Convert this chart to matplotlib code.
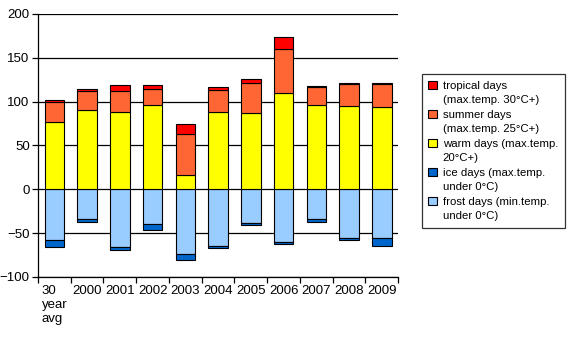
import numpy as np
import matplotlib
matplotlib.use("Agg")
import matplotlib.pyplot as plt
from matplotlib.patches import Patch

plt.rcParams['font.family'] = ['Liberation Sans', 'DejaVu Sans']

labels = ["30\nyear\navg", "2000", "2001", "2002", "2003", "2004",
          "2005", "2006", "2007", "2008", "2009"]

# days per year, stacked upward from zero
warm = [77, 90, 88, 96, 16, 88, 87, 110, 96, 95, 94]
summer = [22, 22, 24, 18, 47, 25, 34, 50, 21, 25, 26]
tropical = [3, 2, 7, 5, 12, 4, 5, 14, 1, 1, 1]
# days per year, stacked downward from zero
frost = [58, 34, 66, 40, 74, 65, 38, 60, 34, 55, 56]
ice = [8, 3, 3, 6, 7, 2, 3, 2, 3, 3, 9]

fig = plt.figure(figsize=(5.69, 3.39), dpi=100)
ax = fig.add_axes([0.0668, 0.183, 0.633, 0.776])

x = np.arange(len(labels))
w = 0.6
ek = dict(edgecolor='black', linewidth=0.8, zorder=3)

warm = np.array(warm)
summer = np.array(summer)
tropical = np.array(tropical)
frost = np.array(frost)
ice = np.array(ice)

b_frost = ax.bar(x, -frost, w, color='#99ccff', **ek)
b_ice = ax.bar(x, -ice, w, bottom=-frost, color='#0066cc', **ek)
b_warm = ax.bar(x, warm, w, color='#ffff00', **ek)
b_summer = ax.bar(x, summer, w, bottom=warm, color='#ff6633', **ek)
b_trop = ax.bar(x, tropical, w, bottom=warm + summer, color='#ff0000', **ek)

ax.set_xlim(-0.5, len(labels) - 0.5)
ax.set_ylim(-100, 200)
ax.set_yticks(range(-100, 201, 50))
ax.yaxis.grid(True, color='black', linewidth=0.9, zorder=0)
ax.set_axisbelow(True)

ax.set_xticks(x)
ax.set_xticklabels(labels, va='top')
ax.get_xticklabels()[0].set_multialignment('left')
ax.set_xticks(np.arange(-0.5, len(labels), 1.0), minor=True)
ax.tick_params(axis='x', which='major', length=0, pad=6, labelsize=9.5)
ax.tick_params(axis='x', which='minor', length=4, width=0.9, direction='out')
ax.tick_params(axis='y', length=4, width=0.9, labelsize=9.5, pad=2)

for s in ['top', 'right']:
    ax.spines[s].set_visible(False)
for s in ['left', 'bottom']:
    ax.spines[s].set_linewidth(0.9)

# legend: swatch on the first line, wrapped text on a blank row below
entries = [(b_trop, "tropical days", "(max.temp. 30°C+)"),
           (b_summer, "summer days", "(max.temp. 25°C+)"),
           (b_warm, "warm days (max.temp.", "20°C+)"),
           (b_ice, "ice days (max.temp.", "under 0°C)"),
           (b_frost, "frost days (min.temp.", "under 0°C)")]
handles, names = [], []
for h, l1, l2 in entries:
    handles += [h, Patch(facecolor='none', edgecolor='none')]
    names += [l1, l2]

leg = fig.legend(handles, names, loc='upper left', bbox_to_anchor=(0.741, 0.782),
                 fontsize=8.2, frameon=True, fancybox=False, edgecolor='black',
                 handlelength=0.75, handleheight=0.75, handletextpad=0.5,
                 labelspacing=0.38, borderpad=0.6, borderaxespad=0)
leg.get_frame().set_linewidth(0.9)

fig.savefig("out.png", dpi=100)
